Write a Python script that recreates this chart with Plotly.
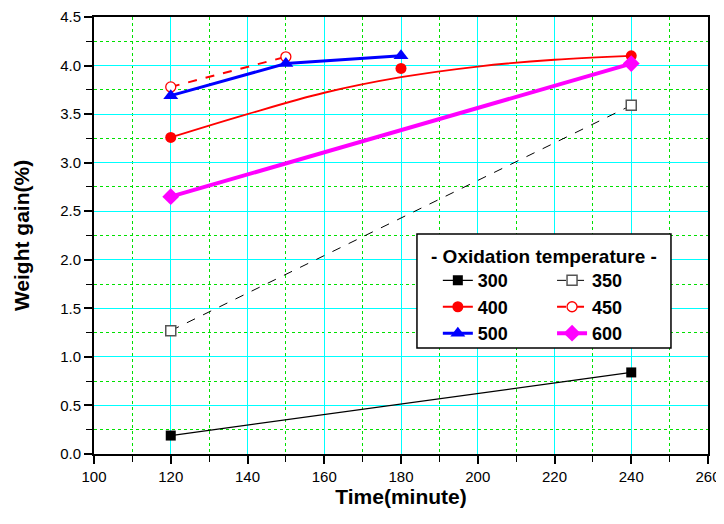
import plotly.graph_objects as go

FONT = "Liberation Sans, Arial, sans-serif"

# ---- data ----
t300 = [120, 240]
w300 = [0.19, 0.84]

t350 = [120, 240]
w350 = [1.27, 3.59]

t400 = [120, 180, 240]
w400 = [3.26, 3.97, 4.10]
# smooth fitted curve drawn through the 400 series
t400_fit = [120, 140, 160, 180, 200, 220, 240]
w400_fit = [3.26, 3.50, 3.72, 3.88, 3.99, 4.06, 4.10]

t450 = [120, 150]
w450 = [3.78, 4.09]

t500 = [120, 150, 180]
w500 = [3.69, 4.02, 4.10]

t600 = [120, 240]
w600 = [2.65, 4.02]

x_ticks = [100, 120, 140, 160, 180, 200, 220, 240, 260]
y_ticks = [0.0, 0.5, 1.0, 1.5, 2.0, 2.5, 3.0, 3.5, 4.0, 4.5]

legend_title = "- Oxidation temperature -"
x_title = "Time(minute)"
y_title = "Weight gain(%)"

fig = go.Figure()

# column 1 of legend: 300, 400, 500 ; column 2: 350, 450, 600
fig.add_trace(go.Scatter(
    x=t300, y=w300, name="300", mode="lines+markers", legend="legend",
    line=dict(color="black", width=1.2),
    marker=dict(symbol="square", size=10, color="black")))

fig.add_trace(go.Scatter(
    x=t350, y=w350, name="350", mode="lines+markers", legend="legend2",
    line=dict(color="black", width=1, dash="dash"),
    marker=dict(symbol="square", size=10, color="white",
                line=dict(color="#555555", width=1.5))))

fig.add_trace(go.Scatter(
    x=t400_fit, y=w400_fit, mode="lines", showlegend=False,
    line=dict(color="red", width=1.8, shape="spline"), hoverinfo="skip"))
fig.add_trace(go.Scatter(
    x=t400, y=w400, name="400", mode="markers", showlegend=False,
    marker=dict(symbol="circle", size=11, color="red")))
fig.add_trace(go.Scatter(
    x=[None], y=[None], name="400", mode="lines+markers", legend="legend",
    line=dict(color="red", width=1.8),
    marker=dict(symbol="circle", size=11, color="red")))

fig.add_trace(go.Scatter(
    x=t450, y=w450, name="450", mode="lines+markers", legend="legend2",
    line=dict(color="red", width=2, dash="dash"),
    marker=dict(symbol="circle", size=10, color="white",
                line=dict(color="red", width=1.3))))

fig.add_trace(go.Scatter(
    x=t500, y=w500, name="500", mode="lines+markers", legend="legend",
    line=dict(color="blue", width=3),
    marker=dict(symbol="triangle-up", size=13, color="blue")))

fig.add_trace(go.Scatter(
    x=t600, y=w600, name="600", mode="lines+markers", legend="legend2",
    line=dict(color="magenta", width=4),
    marker=dict(symbol="diamond", size=13, color="magenta")))

axis_common = dict(
    showline=True, linecolor="black", linewidth=2, mirror=True,
    ticks="outside", ticklen=8, tickwidth=1.5, tickcolor="black",
    showgrid=True, gridcolor="#00FFFF", gridwidth=1, zeroline=False,
    automargin=False, ticklabeloverflow="allow",
    tickfont=dict(family=FONT, size=15, color="black"),
)

fig.update_xaxes(
    **axis_common, range=[100, 260], tickvals=x_ticks,
    minor=dict(dtick=10, tick0=100, showgrid=True, gridcolor="#00E000",
               griddash="dot", gridwidth=1, ticks="outside", ticklen=6,
               tickwidth=1.2, tickcolor="black"),
    title=dict(text=x_title, standoff=0,
               font=dict(family=FONT, size=21, color="black", weight="bold")))

fig.update_yaxes(
    **axis_common, range=[0, 4.5], tickvals=y_ticks, tickformat=".1f",
    minor=dict(dtick=0.25, tick0=0, showgrid=True, gridcolor="#00E000",
               griddash="dot", gridwidth=1, ticks="outside", ticklen=6,
               tickwidth=1.2, tickcolor="black"),
    title=dict(text=y_title, standoff=25,
               font=dict(family=FONT, size=21, color="black", weight="bold")))

leg_font = dict(family=FONT, size=18, color="black", weight="bold")

fig.update_layout(
    template="none",
    width=716, height=516,
    margin=dict(l=86, r=16, t=9, b=70),
    plot_bgcolor="white", paper_bgcolor="white",
    legend=dict(x=0.56, y=0.439, xanchor="left", yanchor="top",
                bgcolor="rgba(0,0,0,0)", borderwidth=0, font=leg_font,
                tracegroupgap=0),
    legend2=dict(x=0.746, y=0.439, xanchor="left", yanchor="top",
                 bgcolor="rgba(0,0,0,0)", borderwidth=0, font=leg_font,
                 tracegroupgap=0),
    shapes=[dict(type="rect", xref="paper", yref="paper",
                 x0=0.526, x1=0.9397, y0=0.2425, y1=0.5034,
                 fillcolor="white", line=dict(color="black", width=1.5),
                 layer="above")],
    annotations=[
        dict(text=legend_title, xref="paper", yref="paper",
             x=0.733, y=0.451, xanchor="center", yanchor="middle",
             showarrow=False,
             font=dict(family=FONT, size=19, color="black", weight="bold")),
    ],
    showlegend=True,
)

fig.write_html("out.html")
